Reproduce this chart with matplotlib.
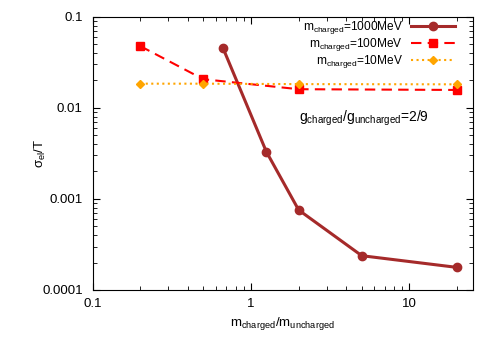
import numpy as np
import matplotlib
matplotlib.use("Agg")
import matplotlib.pyplot as plt

plt.rcParams['font.family'] = ['Liberation Sans', 'DejaVu Sans']
plt.rcParams['mathtext.fontset'] = 'custom'
plt.rcParams['mathtext.rm'] = 'Liberation Sans'
plt.rcParams['mathtext.it'] = 'Liberation Sans'

# data
x1000 = [0.667, 1.25, 2.0, 5.0, 20.0]
y1000 = [0.045, 0.0033, 0.000755, 0.000238, 0.000177]
x100 = [0.2, 0.5, 2.0, 20.0]
y100 = [0.0476, 0.0206, 0.0160, 0.0157]
x10 = [0.2, 0.5, 2.0, 20.0]
y10 = [0.0184, 0.0184, 0.0182, 0.0181]
labels = [r'm$_{\rm charged}$=1000MeV', r'm$_{\rm charged}$=100MeV', r'm$_{\rm charged}$=10MeV']

fig = plt.figure(figsize=(4.98, 3.49), dpi=100)
L, R, T, B = 92.5, 472.5, 16.7, 290.0
ax = fig.add_axes([L/498, 1-B/349, (R-L)/498, (B-T)/349])

ax.plot(x1000, y1000, '-o', color='#a52a2a', lw=2.2, ms=6, label=labels[0])
ax.plot(x100, y100, '--s', color='#ff0000', lw=1.5, ms=6, dashes=(5, 3), label=labels[1])
ax.plot(x10, y10, ':D', color='#ffa500', lw=1.5, ms=4.5, label=labels[2])

ax.set_xscale('log')
ax.set_yscale('log')
ax.set_xlim(0.1, 25)
ax.set_ylim(0.0001, 0.1)
ax.set_xticks([0.1, 1, 10])
ax.set_xticklabels(['0.1', '1', '10'])
ax.set_yticks([0.0001, 0.001, 0.01, 0.1])
ax.set_yticklabels(['0.0001', '0.001', '0.01', '0.1'])
ax.tick_params(which='both', direction='in', top=True, right=True, labelsize=9.5)
ax.tick_params(which='major', length=5)
ax.tick_params(which='minor', length=3)
ax.tick_params(axis='y', pad=7)
ax.tick_params(axis='x', pad=6)

ax.set_xlabel(r'm$_{\rm charged}$/m$_{\rm uncharged}$', fontsize=9.5)
ax.xaxis.set_label_coords(0.5, (B-324)/(B-T))
ax.xaxis.label.set_va('center')
ax.set_ylabel(r'$\sigma_{\rm el}$/T', fontsize=9.5)
ax.yaxis.set_label_coords((40-L)/(R-L), 0.5)
ax.yaxis.label.set_va('center')

ax.text((428-L)/(R-L), (B-118)/(B-T), r'g$_{\rm charged}$/g$_{\rm uncharged}$=2/9',
        transform=ax.transAxes, ha='right', va='center', fontsize=10)

leg = ax.legend(loc='upper right', bbox_to_anchor=((455-L)/(R-L), (B-19)/(B-T)),
                frameon=False, markerfirst=False, fontsize=8.6,
                handlelength=3.7, handletextpad=0.66, labelspacing=0.02,
                borderaxespad=0, borderpad=0)
for t in leg.get_texts():
    t.set_ha('right')
leg._legend_box.align = 'right'

fig.savefig('out.png', dpi=100)
